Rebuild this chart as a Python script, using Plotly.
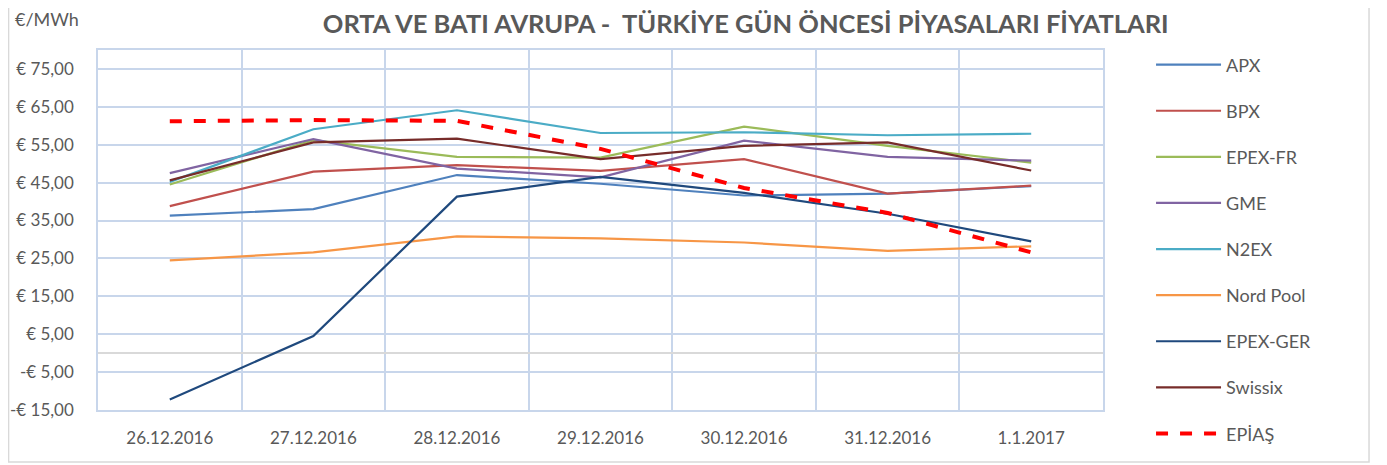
import plotly.graph_objects as go

categories = ["26.12.2016", "27.12.2016", "28.12.2016", "29.12.2016",
              "30.12.2016", "31.12.2016", "1.1.2017"]

apx = [36.3, 38.0, 47.0, 44.7, 41.6, 42.1, 44.1]
bpx = [38.8, 47.9, 49.6, 48.1, 51.2, 42.1, 44.2]
epex_fr = [44.5, 56.2, 51.8, 51.6, 59.8, 54.7, 50.3]
gme = [47.5, 56.5, 48.7, 46.4, 56.1, 51.8, 50.8]
n2ex = [45.2, 59.1, 64.1, 58.1, 58.3, 57.5, 57.9]
nord_pool = [24.5, 26.6, 30.8, 30.3, 29.2, 27.0, 28.2]
epex_ger = [-12.2, 4.5, 41.3, 46.5, 42.3, 36.8, 29.5]
swissix = [45.6, 55.6, 56.6, 51.2, 54.7, 55.6, 48.2]
epias = [61.2, 61.5, 61.3, 53.9, 43.6, 37.0, 26.6]

y_tickvals = [-15, -5, 5, 15, 25, 35, 45, 55, 65, 75]
y_ticktext = ["-€ 15,00", "-€ 5,00", "€ 5,00", "€ 15,00", "€ 25,00",
              "€ 35,00", "€ 45,00", "€ 55,00", "€ 65,00", "€ 75,00"]

series = [
    ("APX", apx, "#4f81bd", 2.2, "solid"),
    ("BPX", bpx, "#c0504d", 2.2, "solid"),
    ("EPEX-FR", epex_fr, "#9bbb59", 2.2, "solid"),
    ("GME", gme, "#8064a2", 2.2, "solid"),
    ("N2EX", n2ex, "#4bacc6", 2.2, "solid"),
    ("Nord Pool", nord_pool, "#f79646", 2.2, "solid"),
    ("EPEX-GER", epex_ger, "#1f497d", 2.2, "solid"),
    ("Swissix", swissix, "#772c2a", 2.2, "solid"),
    ("EPİAŞ", epias, "#ff0000", 4, "dash"),
]

fig = go.Figure()
for name, vals, color, w, dash in series:
    fig.add_trace(go.Scatter(
        x=categories, y=vals, name=name, mode="lines",
        line=dict(color=color, width=w, dash=dash),
        legendgroup=name,
    ))

font_family = "Lato, 'Open Sans', sans-serif"
grid_color = "#c8d6eb"

fig.update_layout(
    width=1379, height=457,
    margin=dict(l=90, r=284, t=42, b=55, autoexpand=False),
    paper_bgcolor="white", plot_bgcolor="white",
    font=dict(family=font_family, size=17, color="#595959"),
    title=dict(
        text="<b>ORTA VE BATI AVRUPA -  TÜRKİYE GÜN ÖNCESİ PİYASALARI FİYATLARI</b>",
        x=0.535, xanchor="center", y=0.965, yanchor="middle",
        font=dict(family=font_family, size=25.5, color="#595959"),
    ),
    showlegend=True,
    legend=dict(
        x=1.0478, xanchor="left", y=1.0098, yanchor="top",
        font=dict(family=font_family, size=18, color="#595959"),
        tracegroupgap=19.7, maxheight=1, itemwidth=65,
        bgcolor="rgba(0,0,0,0)",
    ),
    xaxis=dict(
        type="category", tickson="boundaries", range=[-0.5, 6.5],
        showgrid=True, gridcolor=grid_color, gridwidth=1.5,
        showline=True, linecolor=grid_color, linewidth=1.5, mirror=True,
        ticks="", ticklabelstandoff=12, automargin=False,
        tickfont=dict(size=17, color="#595959"),
        zeroline=False,
    ),
    yaxis=dict(
        range=[-15, 80], automargin=False,
        tickvals=y_tickvals, ticktext=y_ticktext,
        showgrid=True, gridcolor=grid_color, gridwidth=1.5,
        showline=True, linecolor=grid_color, linewidth=1.5, mirror=True,
        zeroline=True, zerolinecolor="#d9d9d9", zerolinewidth=1.5,
        ticks="", ticklabelstandoff=19,
        tickfont=dict(size=17, color="#595959"),
    ),
    annotations=[dict(
        text="€/MWh", xref="paper", yref="paper",
        x=-0.0846, y=1.086, xanchor="left", yanchor="middle",
        showarrow=False, font=dict(family=font_family, size=18, color="#595959"),
    )],
    shapes=[dict(
        type="rect", xref="paper", yref="paper",
        x0=-0.089, x1=1.2647, y0=-0.1444, y1=1.2,
        line=dict(color="#d9d9d9", width=1.5), fillcolor="rgba(0,0,0,0)",
        layer="below",
    )],
)

fig.write_html("out.html")
